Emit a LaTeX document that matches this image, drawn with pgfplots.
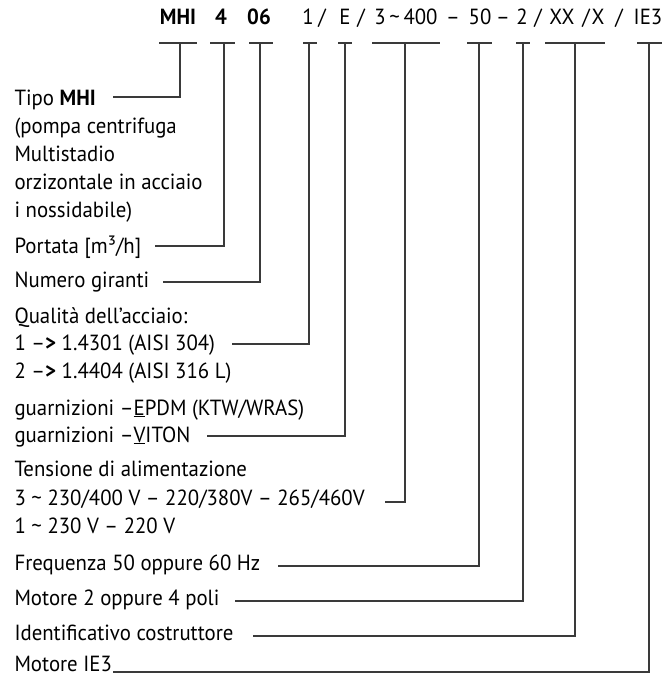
\documentclass[border=0pt]{standalone}
\usepackage{fontspec}
\setmainfont[FakeStretch=0.95]{PT Sans}
\usepackage{pgfplots}
\pgfplotsset{compat=1.18}
\definecolor{ink}{HTML}{222222}
\definecolor{wire}{HTML}{3A3A3A}
\pgfplotsset{lead/.style={wire, line width=1.1bp, mark=none}}
\begin{document}
\begin{tikzpicture}[font=\fontsize{22}{26}\selectfont]
\begin{axis}[scale only axis, width=664bp, height=677bp,
  xmin=0, xmax=664, ymin=0, ymax=677, y dir=reverse,
  hide axis, clip=false,
  every node/.append style={inner sep=0pt, text=ink}]
% frame of the picture
\addplot[draw=none] coordinates {(0,0) (664,677)};

% code row
\node[anchor=base] at (axis cs:178,25) {\textbf{MHI}};
\node[anchor=base] at (axis cs:221,25) {\textbf{4}};
\node[anchor=base] at (axis cs:259,25) {\textbf{06}};
\node[anchor=base] at (axis cs:308,25) {1};
\node[anchor=base] at (axis cs:322,25) {/};
\node[anchor=base] at (axis cs:345,25) {E};
\node[anchor=base] at (axis cs:361,25) {/};
\node[anchor=base] at (axis cs:406,25) {3\,\textasciitilde\,400};
\node[anchor=base] at (axis cs:453,25) {–};
\node[anchor=base] at (axis cs:480,25) {50};
\node[anchor=base] at (axis cs:503,25) {–};
\node[anchor=base] at (axis cs:522,25) {2};
\node[anchor=base] at (axis cs:538,25) {/};
\node[anchor=base] at (axis cs:562,25) {XX};
\node[anchor=base] at (axis cs:586,25) {/};
\node[anchor=base] at (axis cs:598,25) {X};
\node[anchor=base] at (axis cs:619,25) {/};
\node[anchor=base] at (axis cs:648,25) {IE3};

% top bars
\addplot[lead] coordinates {(159,43) (197,43)};
\addplot[lead] coordinates {(210,43) (235,43)};
\addplot[lead] coordinates {(249,43) (273,43)};
\addplot[lead] coordinates {(303,43) (317,43)};
\addplot[lead] coordinates {(338,43) (352,43)};
\addplot[lead] coordinates {(372,43) (440,43)};
\addplot[lead] coordinates {(467,43) (492,43)};
\addplot[lead] coordinates {(516,43) (530,43)};
\addplot[lead] coordinates {(545,43) (605,43)};
\addplot[lead] coordinates {(637,43) (662,43)};

% leaders
\addplot[lead] coordinates {(113,97) (180,97) (180,43)};
\addplot[lead] coordinates {(155,246) (224,246) (224,43)};
\addplot[lead] coordinates {(163,282) (260,282) (260,43)};
\addplot[lead] coordinates {(232,344) (309,344) (309,43)};
\addplot[lead] coordinates {(207,436) (345,436) (345,43)};
\addplot[lead] coordinates {(385,502) (405,502) (405,43)};
\addplot[lead] coordinates {(278,566) (479,566) (479,43)};
\addplot[lead] coordinates {(235,601) (523,601) (523,43)};
\addplot[lead] coordinates {(253,636) (575,636) (575,43)};
\addplot[lead] coordinates {(113,672) (649,672) (649,43)};

% labels
\node[anchor=base west] at (axis cs:11,105) {Tipo \textbf{MHI}};
\node[anchor=base west] at (axis cs:11,133) {(pompa centrifuga};
\node[anchor=base west] at (axis cs:11,161) {Multistadio};
\node[anchor=base west] at (axis cs:11,189) {orzizontale in acciaio};
\node[anchor=base west] at (axis cs:11,217) {i nossidabile)};
\node[anchor=base west] at (axis cs:11,253) {Portata [m³/h]};
\node[anchor=base west] at (axis cs:11,287) {Numero giranti};
\node[anchor=base west] at (axis cs:11,323) {Qualità dell’acciaio:};
\node[anchor=base west] at (axis cs:11,350) {1 –\textbf{>} 1.4301 (AISI 304)};
\node[anchor=base west] at (axis cs:11,378) {2 –\textbf{>} 1.4404 (AISI 316 L)};
\node[anchor=base west] at (axis cs:11,415) {guarnizioni –\underline{E}PDM (KTW/WRAS)};
\node[anchor=base west] at (axis cs:11,442) {guarnizioni –\underline{V}ITON};
\node[anchor=base west] at (axis cs:11,476) {Tensione di alimentazione};
\node[anchor=base west] at (axis cs:11,505) {3 \textasciitilde\ 230/400 V – 220/380V – 265/460V};
\node[anchor=base west] at (axis cs:11,533) {1 \textasciitilde\ 230 V – 220 V};
\node[anchor=base west] at (axis cs:11,570) {Frequenza 50 oppure 60 Hz};
\node[anchor=base west] at (axis cs:11,605) {Motore 2 oppure 4 poli};
\node[anchor=base west] at (axis cs:11,640) {Identificativo costruttore};
\node[anchor=base west] at (axis cs:11,671) {Motore IE3};
\end{axis}
\end{tikzpicture}
\end{document}
